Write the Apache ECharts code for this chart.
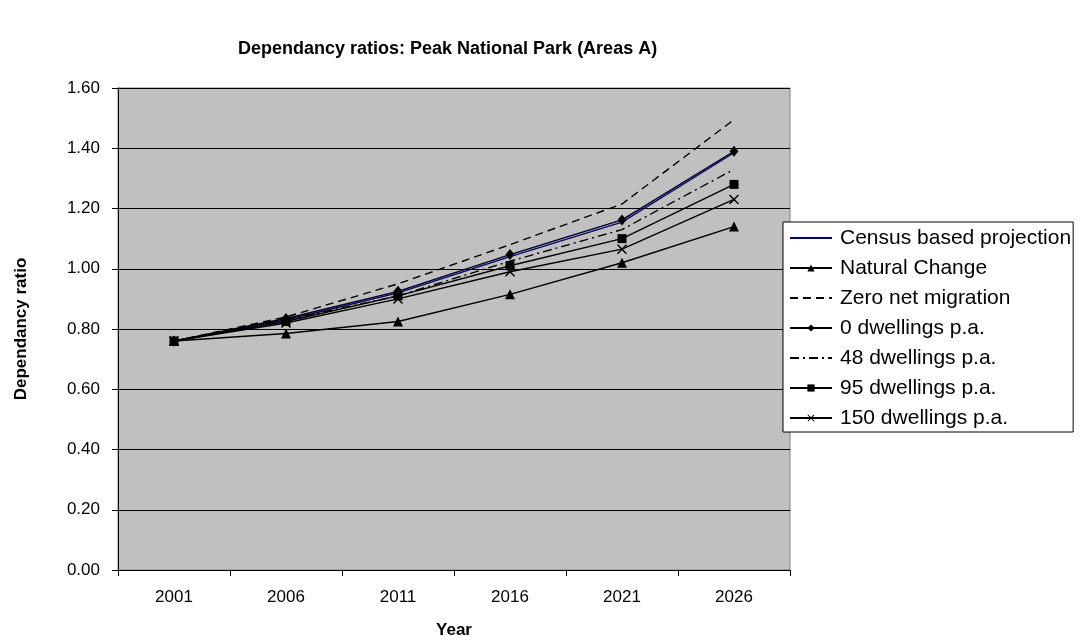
<!DOCTYPE html>
<html>
<head>
<meta charset="utf-8">
<script src="https://cdn.jsdelivr.net/npm/echarts@6/dist/echarts.min.js"></script>
<style>
  html, body { margin: 0; padding: 0; background: #fff; }
  #chart { width: 1081px; height: 644px; }
</style>
</head>
<body>
<div id="chart"></div>
<script>
// Census years on the horizontal axis
const years = ['2001', '2006', '2011', '2016', '2021', '2026'];

// Dependancy ratio per scenario
const censusProjection = [0.76, 0.83, 0.92, 1.04, 1.155, 1.385];
const naturalChange    = [0.76, 0.785, 0.825, 0.915, 1.02, 1.14];
const zeroNetMigration = [0.76, 0.84, 0.95, 1.08, 1.215, 1.495];
const dwellings0       = [0.76, 0.835, 0.925, 1.047, 1.162, 1.39];
const dwellings48      = [0.76, 0.83, 0.91, 1.025, 1.13, 1.33];
const dwellings95      = [0.76, 0.825, 0.91, 1.01, 1.10, 1.28];
const dwellings150     = [0.76, 0.82, 0.90, 0.99, 1.065, 1.23];

const seriesNames = [
  'Census based projection',
  'Natural Change',
  'Zero net migration',
  '0 dwellings p.a.',
  '48 dwellings p.a.',
  '95 dwellings p.a.',
  '150 dwellings p.a.'
];

// Series drawn as plain lines: their legend entries carry no marker
const lineOnly = ['Census based projection', 'Zero net migration', '48 dwellings p.a.'];

const FONT = "'Liberation Sans', Arial, sans-serif";
const crossSymbol = 'path://M0,1L1,0L5,4L9,0L10,1L6,5L10,9L9,10L5,6L1,10L0,9L4,5Z';

function lineSeries(name, data, opts) {
  return Object.assign({
    name: name,
    type: 'line',
    data: data,
    symbol: 'none',
    symbolSize: 9,
    lineStyle: { color: '#000', width: 1.4, type: 'solid' },
    itemStyle: { color: '#000' },
    emphasis: { disabled: true },
    animation: false
  }, opts);
}

const chart = echarts.init(document.getElementById('chart'), null, { renderer: 'canvas' });

chart.setOption({
  backgroundColor: '#fff',
  animation: false,
  title: {
    text: 'Dependancy ratios: Peak National Park (Areas A)',
    left: 238,
    top: 40,
    padding: 0,
    textStyle: { fontFamily: FONT, fontSize: 18, fontWeight: 'bold', color: '#000' }
  },
  grid: {
    left: 118, right: 291, top: 88, bottom: 71,
    show: true,
    backgroundColor: '#C0C0C0',
    borderColor: '#808080',
    borderWidth: 1
  },
  legend: {
    orient: 'vertical',
    left: 783,
    top: 222,
    padding: [5, 2, 3, 6],
    itemWidth: 42,
    itemHeight: 9,
    itemGap: 8,
    backgroundColor: '#fff',
    borderColor: '#000',
    borderWidth: 1,
    borderRadius: 0,
    selectedMode: false,
    data: seriesNames.map(function (n) {
      return lineOnly.indexOf(n) >= 0 ? { name: n, itemStyle: { opacity: 0 } } : { name: n };
    }),
    textStyle: {
      fontFamily: FONT, fontSize: 21, color: '#000',
      lineHeight: 22, padding: [0, 0, 0, 3]
    }
  },
  xAxis: {
    type: 'category',
    data: years,
    boundaryGap: true,
    name: 'Year',
    nameLocation: 'middle',
    nameGap: 52,
    nameTextStyle: { fontFamily: FONT, fontSize: 17, fontWeight: 'bold', color: '#000' },
    axisLine: { lineStyle: { color: '#000', width: 1 } },
    axisTick: { show: true, alignWithLabel: false, length: 6, lineStyle: { color: '#000' } },
    axisLabel: { fontFamily: FONT, fontSize: 17, color: '#000', margin: 19 },
    splitLine: { show: false }
  },
  yAxis: {
    type: 'value',
    min: 0,
    max: 1.6,
    interval: 0.2,
    name: 'Dependancy ratio',
    nameLocation: 'middle',
    nameGap: 88,
    nameRotate: 90,
    nameTextStyle: { fontFamily: FONT, fontSize: 17, fontWeight: 'bold', color: '#000' },
    axisLine: { show: true, lineStyle: { color: '#000', width: 1 } },
    axisTick: { show: true, length: 6, lineStyle: { color: '#000' } },
    axisLabel: {
      fontFamily: FONT, fontSize: 17, color: '#000', margin: 18,
      formatter: function (v) { return v.toFixed(2); }
    },
    splitLine: { show: true, lineStyle: { color: '#000', width: 1 } }
  },
  series: [
    lineSeries(seriesNames[0], censusProjection, {
      lineStyle: { color: '#000080', width: 1.4 },
      itemStyle: { color: '#000080' }
    }),
    lineSeries(seriesNames[1], naturalChange, { symbol: 'triangle', symbolSize: 10 }),
    lineSeries(seriesNames[2], zeroNetMigration, {
      lineStyle: { color: '#000', width: 1.4, type: [8, 5] }
    }),
    lineSeries(seriesNames[3], dwellings0, { symbol: 'diamond', symbolSize: [9, 11] }),
    lineSeries(seriesNames[4], dwellings48, {
      lineStyle: { color: '#000', width: 1.4, type: [9, 4, 2, 4] }
    }),
    lineSeries(seriesNames[5], dwellings95, { symbol: 'rect', symbolSize: 9 }),
    lineSeries(seriesNames[6], dwellings150, { symbol: crossSymbol, symbolSize: 10 })
  ]
});
</script>
</body>
</html>
